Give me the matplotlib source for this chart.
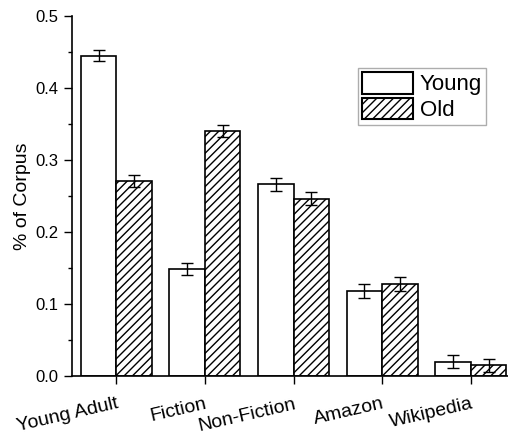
import numpy as np
import matplotlib
matplotlib.use('Agg')
import matplotlib.pyplot as plt
from matplotlib.ticker import MultipleLocator

# datos
categorias = ['Young Adult', 'Fiction', 'Non-Fiction', 'Amazon', 'Wikipedia']
young = [0.445, 0.149, 0.266, 0.118, 0.020]
young_err = [0.008, 0.008, 0.009, 0.010, 0.009]
old = [0.271, 0.340, 0.246, 0.128, 0.015]
old_err = [0.008, 0.008, 0.009, 0.010, 0.009]

plt.rcParams['font.family'] = ['Liberation Sans', 'DejaVu Sans']
plt.rcParams['hatch.linewidth'] = 1.0

fig = plt.figure(figsize=(5.08, 4.42), dpi=100)
ax = fig.add_axes([0.1417, 0.149, 0.8583, 0.815])

x = np.arange(len(categorias))
w = 0.4
err_kw = dict(ecolor='black', elinewidth=1.0, capsize=4, capthick=1.0)
ax.bar(x - w/2, young, w, yerr=young_err, color='white', edgecolor='black',
       linewidth=1.2, label='Young', error_kw=err_kw)
ax.bar(x + w/2, old, w, yerr=old_err, color='white', edgecolor='black',
       linewidth=1.2, hatch='////', label='Old', error_kw=err_kw)

ax.set_xlim(-0.5, 4.42)
ax.set_ylim(0, 0.5)
ax.yaxis.set_major_locator(MultipleLocator(0.1))
ax.yaxis.set_minor_locator(MultipleLocator(0.05))
ax.set_xticks(x)
ax.set_xticklabels(categorias, rotation=13, fontsize=14, ha='right',
                   rotation_mode='anchor')
ax.tick_params(axis='y', labelsize=12, direction='out', length=6, width=1)
ax.tick_params(axis='y', which='minor', length=3, width=1)
ax.tick_params(axis='x', direction='out', length=6, width=1, pad=8)
ax.set_ylabel('% of Corpus', fontsize=14, labelpad=3)

ax.spines['top'].set_visible(False)
ax.spines['right'].set_visible(False)
for s in ['left', 'bottom']:
    ax.spines[s].set_linewidth(1.2)

leg = ax.legend(loc='upper left', bbox_to_anchor=(0.655, 0.856), fontsize=16,
                fancybox=False, edgecolor='#999999', handlelength=2.3,
                handleheight=1.1, handletextpad=0.3, borderpad=0.2,
                labelspacing=0.1, borderaxespad=0)
leg.get_frame().set_linewidth(1.0)
for h in leg.legend_handles:
    h.set_linewidth(1.5)

fig.savefig('out.png', dpi=100)
